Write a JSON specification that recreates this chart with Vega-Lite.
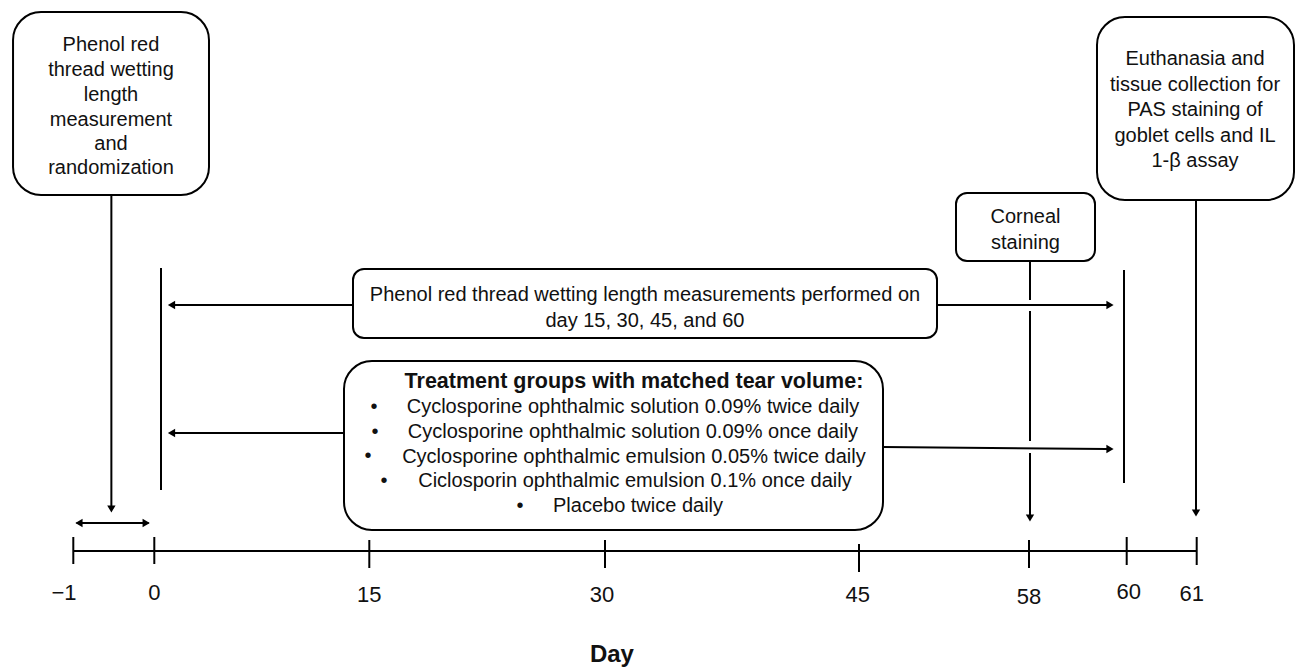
{
  "$schema": "https://vega.github.io/schema/vega-lite/v6.json",
  "width": 1297,
  "height": 669,
  "padding": 0,
  "autosize": {"type": "none"},
  "background": "white",
  "config": {"view": {"stroke": null}, "font": "Liberation Sans"},
  "datasets": {
    "boxes": [
      {"box": "Randomization", "d0": -1.744, "d1": 3.816, "top": 12, "bottom": 195, "corner": "large"},
      {"box": "PRT measurements", "d0": 13.863, "d1": 50.965, "top": 269, "bottom": 338, "corner": "small"},
      {"box": "Treatment groups", "d0": 13.235, "d1": 46.835, "top": 361, "bottom": 530, "corner": "large"},
      {"box": "Corneal staining", "d0": 52.418, "d1": 59.351, "top": 193, "bottom": 261, "corner": "small"},
      {"box": "Euthanasia", "d0": 59.392, "d1": 62.39, "top": 17, "bottom": 200, "corner": "large"}
    ],
    "segments": [
      {"seg": "randomization arrow", "d0": -0.53, "d1": -0.53, "top": 195, "bottom": 508},
      {"seg": "day -1 to 0 span", "d0": -0.96, "d1": -0.07, "top": 523, "bottom": 523},
      {"seg": "day 0 bar", "d0": 0.467, "d1": 0.467, "top": 268, "bottom": 490},
      {"seg": "PRT left", "d0": 1.1, "d1": 13.863, "top": 305, "bottom": 305},
      {"seg": "PRT right", "d0": 50.965, "d1": 59.6, "top": 305, "bottom": 305},
      {"seg": "treatment left", "d0": 1.1, "d1": 13.235, "top": 433, "bottom": 433},
      {"seg": "treatment right", "d0": 46.835, "d1": 59.6, "top": 447, "bottom": 449},
      {"seg": "day 60 bar", "d0": 59.945, "d1": 59.945, "top": 270, "bottom": 483},
      {"seg": "corneal a", "d0": 58.02, "d1": 58.02, "top": 261, "bottom": 300},
      {"seg": "corneal b", "d0": 58.02, "d1": 58.02, "top": 311, "bottom": 441},
      {"seg": "corneal c", "d0": 58.02, "d1": 58.02, "top": 453, "bottom": 515},
      {"seg": "euthanasia arrow", "d0": 60.99, "d1": 60.99, "top": 200, "bottom": 510},
      {"seg": "timeline", "d0": -1, "d1": 61, "top": 551, "bottom": 551}
    ],
    "ticks": [
      {"day": -1, "top": 537, "bottom": 564},
      {"day": 0, "top": 537, "bottom": 564},
      {"day": 15, "top": 540, "bottom": 568},
      {"day": 30, "top": 540, "bottom": 568},
      {"day": 45, "top": 544, "bottom": 572},
      {"day": 58, "top": 540, "bottom": 568},
      {"day": 60, "top": 537, "bottom": 565},
      {"day": 61, "top": 537, "bottom": 565}
    ],
    "heads": [
      {"d": -0.53, "y": 509, "dir": "down"},
      {"d": -0.93, "y": 523, "dir": "left"},
      {"d": -0.1, "y": 523, "dir": "right"},
      {"d": 1.2, "y": 305, "dir": "left"},
      {"d": 1.2, "y": 433, "dir": "left"},
      {"d": 59.658, "y": 305, "dir": "right"},
      {"d": 59.658, "y": 449, "dir": "right"},
      {"d": 58.02, "y": 518, "dir": "down"},
      {"d": 60.99, "y": 513, "dir": "down"}
    ],
    "labels": [
      {"text": "Phenol red", "d": -0.535, "y": 45, "role": "box"},
      {"text": "thread wetting", "d": -0.535, "y": 70, "role": "box"},
      {"text": "length", "d": -0.535, "y": 95, "role": "box"},
      {"text": "measurement", "d": -0.535, "y": 120, "role": "box"},
      {"text": "and", "d": -0.535, "y": 144, "role": "box"},
      {"text": "randomization", "d": -0.535, "y": 168, "role": "box"},
      {"text": "Phenol red thread wetting length measurements performed on", "d": 32.36, "y": 295, "role": "box"},
      {"text": "day 15, 30, 45, and 60", "d": 32.36, "y": 321, "role": "box"},
      {"text": "Treatment groups with matched tear volume:", "d": 31.71, "y": 382, "role": "heading"},
      {"text": "Cyclosporine ophthalmic solution 0.09% twice daily", "d": 31.65, "y": 407, "role": "box"},
      {"text": "Cyclosporine ophthalmic solution 0.09% once daily", "d": 31.65, "y": 432, "role": "box"},
      {"text": "Cyclosporine ophthalmic emulsion 0.05% twice daily", "d": 31.71, "y": 457, "role": "box"},
      {"text": "Ciclosporin ophthalmic emulsion 0.1% once daily", "d": 31.77, "y": 481, "role": "box"},
      {"text": "Placebo twice daily", "d": 31.95, "y": 506, "role": "box"},
      {"text": "•", "d": 15.3, "y": 407, "role": "box"},
      {"text": "•", "d": 15.36, "y": 432, "role": "box"},
      {"text": "•", "d": 14.91, "y": 456, "role": "box"},
      {"text": "•", "d": 15.94, "y": 481, "role": "box"},
      {"text": "•", "d": 24.59, "y": 506, "role": "box"},
      {"text": "Corneal", "d": 57.732, "y": 217, "role": "box"},
      {"text": "staining", "d": 57.732, "y": 243, "role": "box"},
      {"text": "Euthanasia and", "d": 60.976, "y": 59, "role": "box"},
      {"text": "tissue collection for", "d": 60.976, "y": 85, "role": "box"},
      {"text": "PAS staining of", "d": 60.976, "y": 110, "role": "box"},
      {"text": "goblet cells and IL", "d": 60.976, "y": 136, "role": "box"},
      {"text": "1-β assay", "d": 60.976, "y": 161, "role": "box"},
      {"text": "−1", "d": -1.115, "y": 593, "role": "tick"},
      {"text": "0", "d": 0, "y": 593, "role": "tick"},
      {"text": "15", "d": 15, "y": 595, "role": "tick"},
      {"text": "30", "d": 29.81, "y": 595, "role": "tick"},
      {"text": "45", "d": 44.92, "y": 595, "role": "tick"},
      {"text": "58", "d": 58, "y": 597, "role": "tick"},
      {"text": "60", "d": 60.03, "y": 592, "role": "tick"},
      {"text": "61", "d": 60.93, "y": 594, "role": "tick"},
      {"text": "Day", "d": 30.41, "y": 655, "role": "title"}
    ]
  },
  "layer": [
    {
      "data": {"name": "segments"},
      "mark": {"type": "rule", "color": "#000000", "strokeWidth": 2},
      "encoding": {
        "x": {"field": "d0", "type": "quantitative", "axis": null, "scale": {"type": "linear", "domain": [-1, 0, 15, 30, 45, 58, 60, 61], "range": [73.3, 154.3, 369.3, 605, 859, 1029, 1126.7, 1196.7], "nice": false, "zero": false}},
        "x2": {"field": "d1"},
        "y": {"field": "top", "type": "quantitative", "axis": null, "scale": {"domain": [0, 669], "range": [0, 669], "nice": false, "zero": false}},
        "y2": {"field": "bottom"}
      }
    },
    {
      "data": {"name": "ticks"},
      "mark": {"type": "rule", "color": "#000000", "strokeWidth": 2},
      "encoding": {
        "x": {"field": "day", "type": "quantitative", "axis": null},
        "y": {"field": "top", "type": "quantitative", "axis": null},
        "y2": {"field": "bottom"}
      }
    },
    {
      "data": {"name": "heads"},
      "mark": {"type": "point", "filled": true, "color": "#000000", "size": 70, "opacity": 1},
      "encoding": {
        "x": {"field": "d", "type": "quantitative", "axis": null},
        "y": {"field": "y", "type": "quantitative", "axis": null},
        "shape": {"field": "dir", "type": "nominal", "legend": null, "scale": {"domain": ["left", "right", "down"], "range": ["triangle-left", "triangle-right", "triangle-down"]}}
      }
    },
    {
      "data": {"name": "boxes"},
      "transform": [{"filter": "datum.corner === 'large'"}],
      "mark": {"type": "rect", "fill": "white", "stroke": "#000000", "strokeWidth": 2, "cornerRadius": 28},
      "encoding": {
        "x": {"field": "d0", "type": "quantitative", "axis": null},
        "x2": {"field": "d1"},
        "y": {"field": "top", "type": "quantitative", "axis": null},
        "y2": {"field": "bottom"}
      }
    },
    {
      "data": {"name": "boxes"},
      "transform": [{"filter": "datum.corner === 'small'"}],
      "mark": {"type": "rect", "fill": "white", "stroke": "#000000", "strokeWidth": 2, "cornerRadius": 11},
      "encoding": {
        "x": {"field": "d0", "type": "quantitative", "axis": null},
        "x2": {"field": "d1"},
        "y": {"field": "top", "type": "quantitative", "axis": null},
        "y2": {"field": "bottom"}
      }
    },
    {
      "data": {"name": "labels"},
      "transform": [{"filter": "datum.role === 'box'"}],
      "mark": {"type": "text", "font": "Liberation Sans", "fontSize": 20, "color": "#111111", "align": "center", "baseline": "middle"},
      "encoding": {
        "x": {"field": "d", "type": "quantitative", "axis": null},
        "y": {"field": "y", "type": "quantitative", "axis": null},
        "text": {"field": "text"}
      }
    },
    {
      "data": {"name": "labels"},
      "transform": [{"filter": "datum.role === 'heading'"}],
      "mark": {"type": "text", "font": "Liberation Sans", "fontSize": 21.5, "fontWeight": "bold", "color": "#111111", "align": "center", "baseline": "middle"},
      "encoding": {
        "x": {"field": "d", "type": "quantitative", "axis": null},
        "y": {"field": "y", "type": "quantitative", "axis": null},
        "text": {"field": "text"}
      }
    },
    {
      "data": {"name": "labels"},
      "transform": [{"filter": "datum.role === 'tick'"}],
      "mark": {"type": "text", "font": "Liberation Sans", "fontSize": 22, "color": "#111111", "align": "center", "baseline": "middle"},
      "encoding": {
        "x": {"field": "d", "type": "quantitative", "axis": null},
        "y": {"field": "y", "type": "quantitative", "axis": null},
        "text": {"field": "text"}
      }
    },
    {
      "data": {"name": "labels"},
      "transform": [{"filter": "datum.role === 'title'"}],
      "mark": {"type": "text", "font": "Liberation Sans", "fontSize": 24, "fontWeight": "bold", "color": "#111111", "align": "center", "baseline": "middle"},
      "encoding": {
        "x": {"field": "d", "type": "quantitative", "axis": null},
        "y": {"field": "y", "type": "quantitative", "axis": null},
        "text": {"field": "text"}
      }
    }
  ]
}
